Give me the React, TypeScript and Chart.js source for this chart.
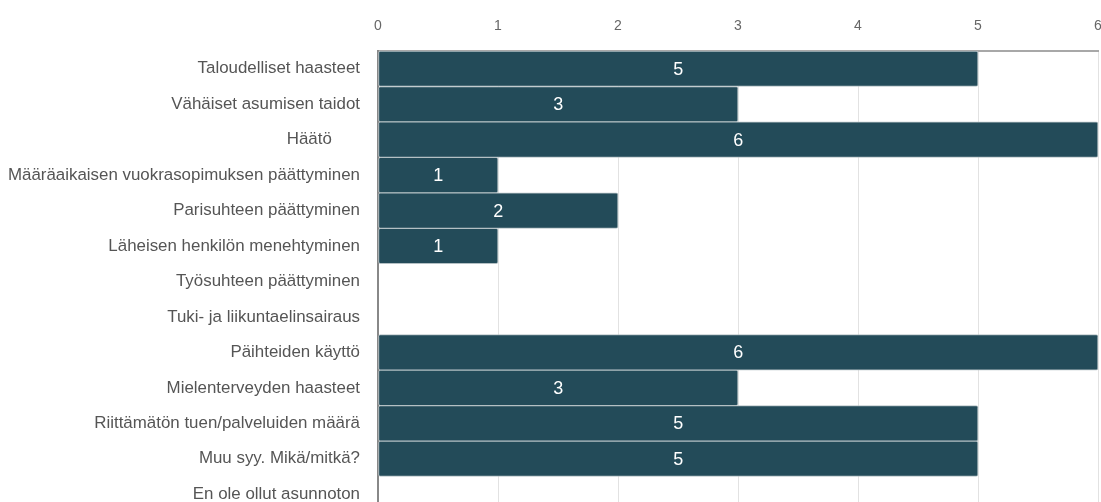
import React, { useEffect, useRef } from "react";
import { Chart, registerables } from "chart.js";

Chart.register(...registerables);

const categories: string[] = [
  "Taloudelliset haasteet",
  "Vähäiset asumisen taidot",
  "Häätö\u00a0\u00a0\u00a0\u00a0\u00a0\u00a0",
  "Määräaikaisen vuokrasopimuksen päättyminen",
  "Parisuhteen päättyminen",
  "Läheisen henkilön menehtyminen",
  "Työsuhteen päättyminen",
  "Tuki- ja liikuntaelinsairaus",
  "Päihteiden käyttö",
  "Mielenterveyden haasteet",
  "Riittämätön tuen/palveluiden määrä",
  "Muu syy. Mikä/mitkä?",
  "En ole ollut asunnoton",
];

const values: number[] = [5, 3, 6, 1, 2, 1, 0, 0, 6, 3, 5, 5, 0];

const xTicks: number[] = [0, 1, 2, 3, 4, 5, 6];

const FONT = "'Liberation Sans', Arial, sans-serif";

const valueLabels = {
  id: "valueLabels",
  afterDatasetsDraw(chart: any) {
    const ctx = chart.ctx;
    const meta = chart.getDatasetMeta(0);
    ctx.save();
    ctx.fillStyle = "#ffffff";
    ctx.font = `18px ${FONT}`;
    ctx.textAlign = "center";
    ctx.textBaseline = "middle";
    meta.data.forEach((bar: any, i: number) => {
      const v = values[i];
      if (!v) return;
      const props = bar.getProps(["x", "y", "base"], true);
      ctx.fillText(String(v), (props.x + props.base) / 2, props.y + 1);
    });
    ctx.restore();
  },
};

export default function App() {
  const ref = useRef<HTMLCanvasElement | null>(null);

  useEffect(() => {
    if (!ref.current) return;
    const chart = new Chart(ref.current, {
      type: "bar",
      data: {
        labels: categories,
        datasets: [
          {
            data: values,
            backgroundColor: "#234b59",
            borderColor: "#b4c0c4",
            borderWidth: 1,
            borderRadius: 2,
            borderSkipped: false,
            barPercentage: 1,
            categoryPercentage: 1,
          },
        ],
      },
      options: {
        indexAxis: "y",
        animation: false,
        responsive: false,
        maintainAspectRatio: false,
        layout: { padding: { top: 14, right: 3, left: 0, bottom: 0 } },
        plugins: {
          legend: { display: false },
          tooltip: { enabled: false },
        },
        scales: {
          x: {
            position: "top",
            min: 0,
            max: 6,
            afterBuildTicks(scale: any) {
              scale.ticks = xTicks.map((v) => ({ value: v }));
            },
            afterFit(scale: any) {
              scale.height = 37;
              scale.paddingLeft = 0;
              scale.paddingRight = 0;
              scale.paddingTop = 0;
              scale.paddingBottom = 0;
            },
            ticks: {
              color: "#666666",
              font: { family: FONT, size: 14 },
              padding: 16,
            },
            grid: { color: "#e2e2e2", drawTicks: false },
            border: { color: "#a8a8a8", width: 2 },
          },
          y: {
            afterFit(scale: any) {
              scale.width = 378;
              scale.paddingTop = 0;
              scale.paddingBottom = 0;
              scale.paddingLeft = 0;
              scale.paddingRight = 0;
            },
            ticks: {
              color: "#555555",
              font: { family: FONT, size: 16.9 },
              padding: 18,
            },
            grid: { display: false, drawTicks: false },
            border: { color: "#888888", width: 2 },
          },
        },
      },
      plugins: [valueLabels],
    });
    return () => chart.destroy();
  }, []);

  return (
    <div style={{ position: "absolute", left: 0, top: 0, width: 1101, height: 512 }}>
      <canvas ref={ref} width={1101} height={512} style={{ display: "block" }} />
    </div>
  );
}
